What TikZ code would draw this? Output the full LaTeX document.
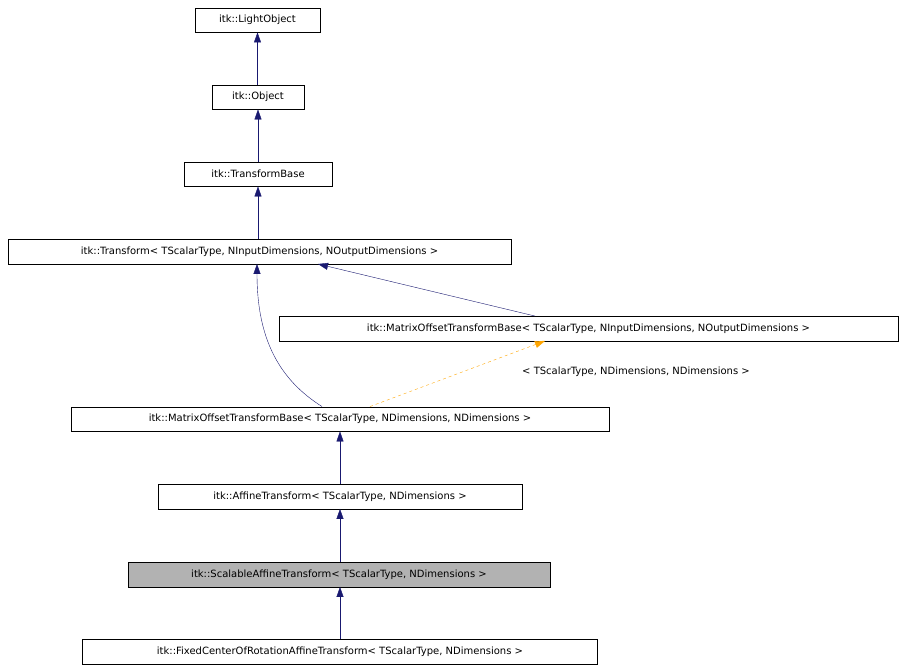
\documentclass[tikz,border=0pt]{standalone}
\usepackage{fontspec}
\setmainfont{DejaVu Sans}
\usetikzlibrary{arrows.meta}
\definecolor{navy}{RGB}{25,25,112}
\definecolor{orng}{RGB}{255,165,0}
\begin{document}
\begin{tikzpicture}[x=1pt,y=-1pt,
 box/.style={draw,thin,minimum height=24.5pt,font=\fontsize{10}{12}\selectfont,inner sep=0pt,anchor=center},
 inh/.style={navy,-{Triangle[width=7pt,length=10pt]}},
 tmpl/.style={orng,dashed,-{Triangle[width=7pt,length=10pt]}}]
\useasboundingbox (0,0) rectangle (903,669);
\node[box,minimum width=125pt] (lo) at (257.5,20) {itk::LightObject};
\node[box,minimum width=92pt] (ob) at (258,97) {itk::Object};
\node[box,minimum width=148pt] (tb) at (258,174) {itk::TransformBase};
\node[box,minimum width=503pt] (tr) at (259.5,251.5) {itk::Transform< TScalarType, NInputDimensions, NOutputDimensions >};
\node[box,minimum width=619pt] (mt) at (588.5,328.5) {itk::MatrixOffsetTransformBase< TScalarType, NInputDimensions, NOutputDimensions >};
\node[box,minimum width=538pt] (mm) at (340,419) {itk::MatrixOffsetTransformBase< TScalarType, NDimensions, NDimensions >};
\node[box,minimum width=364pt] (af) at (340,496.5) {itk::AffineTransform< TScalarType, NDimensions >};
\node[box,minimum width=422pt,fill=black!30] (sc) at (339,574.5) {itk::ScalableAffineTransform< TScalarType, NDimensions >};
\node[box,minimum width=515pt] (fx) at (340,651.5) {itk::FixedCenterOfRotationAffineTransform< TScalarType, NDimensions >};
\draw[inh] (ob.north -| lo) -- (lo.south);
\draw[inh] (tb.north) -- (ob.south);
\draw[inh] (tr.north -| tb) -- (tb.south);
\draw[inh] (mt.north -| 535,0) -- (318,264);
\draw[inh] (mm.north -| 322,0) .. controls (280,380) and (257,340) .. (tr.south -| 257,0);
\draw[tmpl] (mm.north -| 370,0) -- (mt.south -| 545,0);
\node[font=\fontsize{10}{12}\selectfont] (lbl) at (636,372) {< TScalarType, NDimensions, NDimensions >};
\draw[inh] (af.north) -- (mm.south);
\draw[inh] (sc.north -| af) -- (af.south);
\draw[inh] (fx.north) -- (sc.south -| fx);
\end{tikzpicture}
\end{document}
